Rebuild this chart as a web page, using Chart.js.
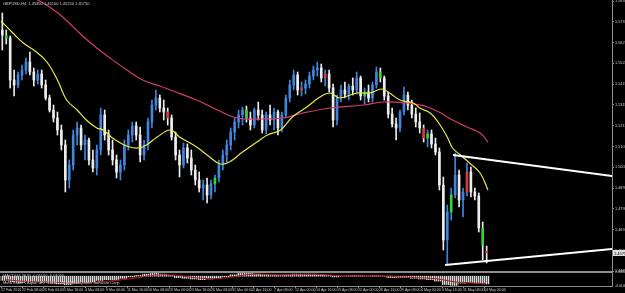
<!DOCTYPE html>
<html><head><meta charset="utf-8">
<script src="https://cdn.jsdelivr.net/npm/chart.js@4.4.1/dist/chart.umd.min.js"></script>
<style>html,body{margin:0;padding:0;background:#000;overflow:hidden}canvas{display:block}</style>
</head><body>
<canvas id="c" width="625" height="293"></canvas>
<script>
// ---------- DATA ----------
const symbolTitle = 'GBPUSD,H4';
const barStep = 3;            // each drawn candle spans 3 H4 bars
const timeLabelStep = 16;     // one time label every 16 H4 bars
const timeLabels = ['17 Feb 2010','22 Feb 08:00','25 Feb 00:00','1 Mar 16:00','4 Mar 08:00','9 Mar 00:00',
  '11 Mar 16:00','16 Mar 08:00','19 Mar 00:00','23 Mar 16:00','26 Mar 08:00','31 Mar 00:00','2 Apr 16:00',
  '7 Apr 08:00','12 Apr 00:00','14 Apr 16:00','19 Apr 08:00','22 Apr 00:00','26 Apr 16:00','29 Apr 08:00',
  '4 May 00:00','6 May 16:00','11 May 08:00','14 May 00:00'];
const priceTicks = [1.5835,1.5783,1.5731,1.5679,1.5627,1.5575,1.5523,1.5471,1.5419,1.5367,1.5315,1.5263,1.5211,
  1.5159,1.5107,1.5055,1.5003,1.4951,1.4899,1.4847,1.4795,1.4743,1.4691,1.4639,1.4587,1.4535,1.4483];
const priceMax = 1.5840, priceMin = 1.4480;

const opens = [1.5690,1.5665,1.5650,1.5440,1.5415,1.5465,1.5490,1.5530,1.5480,1.5440,
 1.5470,1.5415,1.5350,1.5290,1.5250,1.5190,1.5115,1.4940,1.5015,1.5165,
 1.5200,1.5115,1.5140,1.5040,1.5000,1.5090,1.5265,1.5165,1.5090,1.5040,
 1.4980,1.5015,1.5115,1.5165,1.5210,1.5165,1.5065,1.5115,1.5230,1.5315,
 1.5350,1.5300,1.5280,1.5250,1.5155,1.5065,1.5015,1.5100,1.5050,1.4990,
 1.4940,1.4900,1.4915,1.4865,1.4920,1.4950,1.5015,1.5065,1.5115,1.5180,
 1.5230,1.5265,1.5290,1.5250,1.5215,1.5290,1.5265,1.5190,1.5265,1.5240,
 1.5280,1.5200,1.5265,1.5350,1.5415,1.5465,1.5390,1.5400,1.5420,1.5460,
 1.5490,1.5500,1.5450,1.5470,1.5400,1.5240,1.5350,1.5390,1.5370,1.5410,
 1.5390,1.5450,1.5360,1.5380,1.5350,1.5415,1.5480,1.5450,1.5360,1.5270,
 1.5220,1.5200,1.5280,1.5365,1.5315,1.5270,1.5230,1.5200,1.5150,1.5170,
 1.5120,1.5080,1.4915,1.4640,1.4780,1.4865,1.4965,1.4840,1.4880,1.4980,
 1.4880,1.4860,1.4700,1.4585];
const highs = [1.5775,1.5690,1.5660,1.5490,1.5480,1.5515,1.5550,1.5580,1.5500,1.5490,
 1.5490,1.5440,1.5365,1.5315,1.5280,1.5215,1.5140,1.5040,1.5190,1.5230,
 1.5215,1.5165,1.5150,1.5090,1.5115,1.5300,1.5290,1.5190,1.5140,1.5065,
 1.5040,1.5140,1.5190,1.5230,1.5230,1.5205,1.5140,1.5250,1.5340,1.5390,
 1.5365,1.5340,1.5300,1.5265,1.5180,1.5090,1.5125,1.5120,1.5090,1.5015,
 1.4980,1.4940,1.4950,1.4940,1.4965,1.5040,1.5090,1.5140,1.5200,1.5250,
 1.5290,1.5305,1.5310,1.5280,1.5300,1.5330,1.5290,1.5280,1.5315,1.5300,
 1.5290,1.5280,1.5365,1.5440,1.5490,1.5480,1.5430,1.5440,1.5480,1.5510,
 1.5530,1.5520,1.5490,1.5490,1.5420,1.5365,1.5415,1.5430,1.5420,1.5450,
 1.5480,1.5460,1.5400,1.5415,1.5430,1.5505,1.5500,1.5460,1.5380,1.5300,
 1.5250,1.5290,1.5405,1.5380,1.5340,1.5300,1.5275,1.5215,1.5190,1.5190,
 1.5150,1.5100,1.4955,1.4815,1.4900,1.5075,1.4990,1.4900,1.5025,1.5005,
 1.4900,1.4875,1.4730,1.4610];
const lows = [1.5590,1.5620,1.5400,1.5360,1.5400,1.5440,1.5470,1.5465,1.5410,1.5420,
 1.5400,1.5340,1.5280,1.5230,1.5165,1.5090,1.4880,1.4900,1.4990,1.5115,
 1.5090,1.5040,1.5015,1.4980,1.4965,1.5065,1.5140,1.5065,1.5015,1.4950,
 1.4940,1.4990,1.5090,1.5130,1.5140,1.5030,1.5040,1.5090,1.5200,1.5290,
 1.5280,1.5240,1.5215,1.5140,1.5040,1.4955,1.5000,1.5025,1.4965,1.4915,
 1.4880,1.4840,1.4825,1.4845,1.4880,1.4930,1.4990,1.5030,1.5090,1.5140,
 1.5200,1.5215,1.5230,1.5190,1.5200,1.5240,1.5175,1.5170,1.5215,1.5190,
 1.5165,1.5180,1.5250,1.5330,1.5390,1.5365,1.5360,1.5370,1.5400,1.5440,
 1.5460,1.5430,1.5410,1.5380,1.5205,1.5215,1.5330,1.5350,1.5340,1.5365,
 1.5370,1.5340,1.5320,1.5330,1.5330,1.5400,1.5430,1.5340,1.5250,1.5205,
 1.5140,1.5180,1.5265,1.5290,1.5250,1.5205,1.5175,1.5130,1.5105,1.5100,
 1.5065,1.4890,1.4590,1.4515,1.4740,1.4850,1.4805,1.4755,1.4860,1.4855,
 1.4840,1.4680,1.4540,1.4525];
const closes = [1.5665,1.5650,1.5440,1.5415,1.5465,1.5490,1.5530,1.5480,1.5440,1.5470,
 1.5415,1.5350,1.5290,1.5250,1.5190,1.5115,1.4940,1.5015,1.5165,1.5200,
 1.5115,1.5140,1.5040,1.5000,1.5090,1.5265,1.5165,1.5090,1.5040,1.4980,
 1.5015,1.5115,1.5165,1.5210,1.5165,1.5065,1.5115,1.5230,1.5315,1.5350,
 1.5300,1.5280,1.5250,1.5155,1.5065,1.5015,1.5100,1.5050,1.4990,1.4940,
 1.4900,1.4915,1.4865,1.4920,1.4950,1.5015,1.5065,1.5115,1.5180,1.5230,
 1.5265,1.5290,1.5250,1.5215,1.5290,1.5265,1.5190,1.5265,1.5240,1.5280,
 1.5200,1.5265,1.5350,1.5415,1.5465,1.5390,1.5400,1.5420,1.5460,1.5490,
 1.5500,1.5450,1.5470,1.5400,1.5240,1.5350,1.5390,1.5370,1.5410,1.5390,
 1.5450,1.5360,1.5380,1.5350,1.5415,1.5480,1.5450,1.5360,1.5270,1.5220,
 1.5200,1.5280,1.5365,1.5315,1.5270,1.5230,1.5200,1.5150,1.5170,1.5120,
 1.5080,1.4915,1.4640,1.4780,1.4865,1.4965,1.4840,1.4880,1.4980,1.4880,
 1.4860,1.4700,1.4615,1.4575];

// moving averages: bar index and value
const fastMA_x = [0,9,17,27,35,43,50,58,65,73,78,85,98,108,119,129,136,149,159,167,174,184,195,203,213,222,233,243,251,258,271,281,290,296,304,314,319,327,334,340,344,350,357,365,371];
const fastMA   = [1.5735,1.5675,1.5625,1.5580,1.5530,1.5440,1.5340,1.5290,1.5240,1.5200,1.5190,1.5150,1.5105,1.5105,1.5155,1.5190,1.5155,1.5105,1.5055,1.5020,1.5030,1.5080,1.5130,1.5165,1.5190,1.5255,1.5305,1.5355,1.5375,1.5350,1.5375,1.5375,1.5395,1.5375,1.5340,1.5325,1.5300,1.5275,1.5220,1.5155,1.5100,1.5065,1.5025,1.4975,1.4890];
const slowMA_x = [22,28,37,47,63,75,81,96,108,121,129,149,165,180,200,215,230,251,276,291,309,319,325,335,340,344,355,365,371];
const slowMA   = [1.5865,1.5840,1.5805,1.5755,1.5655,1.5590,1.5560,1.5490,1.5440,1.5410,1.5390,1.5340,1.5290,1.5250,1.5245,1.5250,1.5275,1.5300,1.5315,1.5330,1.5325,1.5315,1.5305,1.5275,1.5255,1.5240,1.5205,1.5175,1.5130];

// trend lines (bar index, price)
const upperTrend_x = [344.4, 465.5], upperTrend = [1.5065, 1.4960];
const lowerTrend_x = [338.3, 465.5], lowerTrend = [1.4515, 1.4595];

// MACD(12,26,9) sampled every 6 bars
const macdHist = [-0.006,-0.008,-0.009,-0.008,-0.008,-0.009,-0.010,-0.011,-0.012,-0.010,
 -0.009,-0.008,-0.006,-0.005,-0.005,-0.003,-0.001,0.001,0.003,0.004,
 0.003,0.001,-0.002,-0.003,-0.004,-0.005,-0.004,-0.003,-0.001,0.002,
 0.004,0.004,0.003,0.002,0.001,0.001,0.002,0.003,0.003,0.003,
 0.002,0.001,-0.001,0.000,0.001,0.001,0.000,0.001,0.000,-0.002,
 -0.002,-0.002,-0.003,-0.004,-0.005,-0.007,-0.012,-0.013,-0.010,-0.009,
 -0.010,-0.011];
const macdSignal = [-0.005,-0.006,-0.007,-0.0075,-0.008,-0.008,-0.0085,-0.009,-0.010,-0.010,
 -0.0095,-0.009,-0.008,-0.007,-0.006,-0.005,-0.0035,-0.002,0.000,0.0015,
 0.002,0.002,0.001,-0.0005,-0.002,-0.003,-0.0035,-0.0035,-0.0025,-0.001,
 0.001,0.0025,0.003,0.003,0.0025,0.002,0.002,0.002,0.0025,0.0025,
 0.0025,0.002,0.001,0.0005,0.0005,0.0005,0.0005,0.0005,0.0005,0.000,
 -0.001,-0.0015,-0.002,-0.0025,-0.003,-0.004,-0.006,-0.008,-0.009,-0.0095,
 -0.010,-0.0105];
const macdStep = 6;
const macdTicks = [0.0060, -0.0140];

// ---------- STYLE ----------
const C = { up:'#3f86dc', down:'#ececec', green:'#35d435', red:'#d83a3a', fast:'#e9e94a', slow:'#d63a74',
  axis:'#8c8c8c', text:'#cfcfcf' };
const greenBodies = [1,54,62,92,96,108,114,122];
const redBodies = [42,76,82,107,118,123];
const FONT = 'Liberation Sans';

// vertical-stripe pattern for the MACD histogram
const pc = document.createElement('canvas'); pc.width = 2; pc.height = 2;
const pctx = pc.getContext('2d');
pctx.fillStyle = '#d8d8d8'; pctx.fillRect(0, 0, 1, 2);
pctx.fillStyle = '#5a5a5a'; pctx.fillRect(1, 0, 1, 2);
const histPattern = pctx.createPattern(pc, 'repeat');

const candleX = opens.map((_, i) => i * barStep + 1);
const baseColor = i => closes[i] >= opens[i] ? C.up : C.down;
const bodyColor = i => greenBodies.includes(i) ? C.green : redBodies.includes(i) ? C.red : baseColor(i);
const pts = (xs, ys) => xs.map((x, i) => ({x, y: ys[i]}));
const xMin = -0.762, xMax = 465.5;
const zeroPad = s => { s.paddingTop = 0; s.paddingBottom = 0; s.paddingLeft = 0; s.paddingRight = 0; };

const overlay = {
  id: 'overlay',
  beforeDraw(chart) {
    const ctx = chart.ctx; ctx.save(); ctx.fillStyle = '#000'; ctx.fillRect(0, 0, chart.width, chart.height); ctx.restore();
  },
  afterDraw(chart) {
    const ctx = chart.ctx, y = chart.scales.y, y2 = chart.scales.y2, a = chart.chartArea;
    const n = closes.length - 1;
    ctx.save();
    ctx.fillStyle = C.text; ctx.textBaseline = 'top'; ctx.font = `4px "${FONT}"`;
    ctx.fillText(`${symbolTitle}  ${opens[n].toFixed(5)} ${highs[n].toFixed(5)} ${lows[n].toFixed(5)} ${closes[n].toFixed(5)}`, 3, 2);
    ctx.fillText(`MACD(12,26,9) ${macdHist[macdHist.length-1].toFixed(5)} ${macdSignal[macdSignal.length-1].toFixed(5)}`, 3, y2.top + 2);
    ctx.fillText('MetaTrader - Alpari UK, \u00A9 2001-2010 MetaQuotes Software Corp.', 3, y2.top + 8.5);
    const py = y.getPixelForValue(closes[n]);
    ctx.fillStyle = '#dedede'; ctx.fillRect(a.right + 1, py - 3, 13, 6);
    ctx.fillStyle = '#000'; ctx.textBaseline = 'middle';
    ctx.fillText(closes[n].toFixed(4), a.right + 2, py + 0.5);
    ctx.restore();
  }
};

new Chart(document.getElementById('c'), {
  type: 'bar',
  data: { datasets: [
    { type:'line', label:'upper', data: pts(upperTrend_x, upperTrend), borderColor:'#ffffff', borderWidth:2, pointRadius:0, yAxisID:'y', order:0 },
    { type:'line', label:'lower', data: pts(lowerTrend_x, lowerTrend), borderColor:'#ffffff', borderWidth:2, pointRadius:0, yAxisID:'y', order:0 },
    { type:'line', label:'fast', data: pts(fastMA_x, fastMA), borderColor:C.fast, borderWidth:1.2, pointRadius:0, tension:0.4, yAxisID:'y', order:1 },
    { type:'line', label:'slow', data: pts(slowMA_x, slowMA), borderColor:C.slow, borderWidth:1.2, pointRadius:0, tension:0.4, yAxisID:'y', order:1 },
    { type:'bar', label:'bodies', data: candleX.map((x, i) => ({x, y:[opens[i], closes[i]]})), backgroundColor: opens.map((_, i) => bodyColor(i)),
      barThickness:2, minBarLength:1, grouped:false, yAxisID:'y', order:2 },
    { type:'bar', label:'wicks', data: candleX.map((x, i) => ({x, y:[lows[i], highs[i]]})), backgroundColor: opens.map((_, i) => baseColor(i)),
      barThickness:1, grouped:false, yAxisID:'y', order:3 },
    { type:'line', label:'signal', data: macdSignal.map((v, j) => ({x: j*macdStep + 3, y: v})), borderColor:'#b01c1c', borderWidth:1, pointRadius:0, tension:0.3, yAxisID:'y2', order:0 },
    { type:'bar', label:'hist', data: macdHist.map((v, j) => ({x: j*macdStep + 3, y: v})), backgroundColor: histPattern, barThickness:8, grouped:false, yAxisID:'y2', order:2 }
  ]},
  options: {
    responsive:false, animation:false, devicePixelRatio:1, events:[],
    layout:{ padding:0 },
    plugins:{ legend:{display:false}, tooltip:{enabled:false}, title:{display:false} },
    scales: {
      x: { type:'linear', min:xMin, max:xMax, position:'bottom', offset:false,
        grid:{ offset:false, drawOnChartArea:false, drawTicks:true, tickLength:2, tickColor:C.axis, color:C.axis },
        border:{ color:C.axis, width:1 },
        ticks:{ autoSkip:false, maxRotation:0, minRotation:0, align:'start', padding:0, color:C.text,
          font:{ size:3.6, family:FONT }, callback:(v, i) => timeLabels[i] ?? '' },
        afterBuildTicks: s => { s.ticks = timeLabels.map((_, i) => ({ value: i * timeLabelStep })); },
        afterFit: s => { s.height = 7; zeroPad(s); }
      },
      y: { type:'linear', position:'right', stack:'win', stackWeight:272, min:priceMin, max:priceMax,
        grid:{ drawOnChartArea:false, drawTicks:true, tickLength:2, tickColor:C.axis, color:C.axis },
        border:{ color:C.axis, width:1 },
        ticks:{ padding:1, color:C.text, font:{ size:3.8, family:FONT }, callback: v => v.toFixed(4) },
        afterBuildTicks: s => { s.ticks = priceTicks.map(v => ({ value: v })); },
        afterFit: s => { s.width = 13; zeroPad(s); }
      },
      y2: { type:'linear', position:'right', stack:'win', stackWeight:14, min:-0.014, max:0.006,
        grid:{ drawOnChartArea:true, drawTicks:false, lineWidth:2,
          color: c => (c.tick && c.tick.value === macdTicks[0]) ? C.axis : 'rgba(0,0,0,0)' },
        border:{ color:C.axis, width:1 },
        ticks:{ padding:3, color:C.text, font:{ size:3.4, family:FONT }, callback: v => v.toFixed(4) },
        afterBuildTicks: s => { s.ticks = macdTicks.map(v => ({ value: v })); },
        afterFit: s => { s.width = 13; zeroPad(s); }
      }
    }
  },
  plugins: [overlay]
});
</script>
</body></html>
